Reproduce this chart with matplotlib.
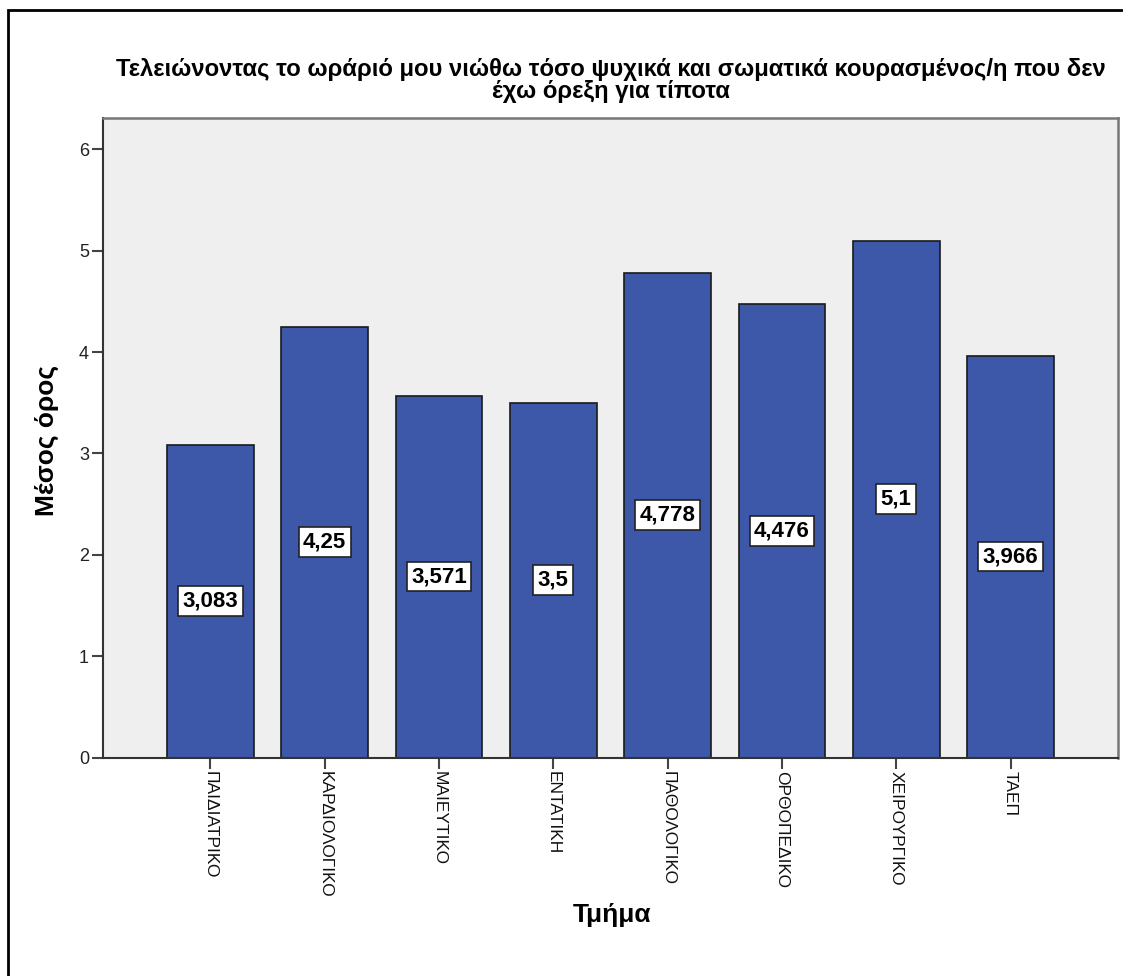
import matplotlib
matplotlib.use("Agg")
import matplotlib.pyplot as plt
from matplotlib.patches import Rectangle

categories = ["ΠΑΙΔΙΑΤΡΙΚΟ", "ΚΑΡΔΙΟΛΟΓΙΚΟ", "ΜΑΙΕΥΤΙΚΟ", "ΕΝΤΑΤΙΚΗ",
              "ΠΑΘΟΛΟΓΙΚΟ", "ΟΡΘΟΠΕΔΙΚΟ", "ΧΕΙΡΟΥΡΓΙΚΟ", "ΤΑΕΠ"]
values = [3.083, 4.25, 3.571, 3.5, 4.778, 4.476, 5.1, 3.966]
value_labels = ["3,083", "4,25", "3,571", "3,5", "4,778", "4,476", "5,1", "3,966"]
yticks = [0, 1, 2, 3, 4, 5, 6]

title_lines = ["Τελειώνοντας το ωράριό μου νιώθω τόσο ψυχικά και σωματικά κουρασμένος/η που δεν",
               "έχω όρεξη για τίποτα"]
xlabel = "Τμήμα"
ylabel = "Μέσος όρος"

plt.rcParams['font.family'] = ['Liberation Sans', 'DejaVu Sans']

W, H = 1123, 976
fig = plt.figure(figsize=(W / 100, H / 100), dpi=100)
fig.patch.set_facecolor("white")

# outer frame
fig.patches.append(Rectangle((8 / W, -0.01), 1.2, 1 - 10 / H + 0.01, transform=fig.transFigure,
                             fill=False, edgecolor="black", linewidth=2))

left, right = 103 / W, 1118 / W
bottom, top = 1 - 757.5 / H, 1 - 118 / H
ax = fig.add_axes([left, bottom, right - left, top - bottom])
ax.set_facecolor("#efefef")

x = list(range(len(categories)))
ax.bar(x, values, width=0.757, color="#3d57a9", edgecolor="#1a1a1a", linewidth=1.2, zorder=2)

for xi, v, lab in zip(x, values, value_labels):
    ax.text(xi, v / 2, lab, ha="center", va="center", fontsize=16, fontweight="bold",
            color="black", zorder=3,
            bbox=dict(boxstyle="square,pad=0.2", facecolor="white", edgecolor="#222222", linewidth=1.2))

ax.set_xlim(-0.94, 7.94)
ax.set_ylim(0, 6.31)
ax.set_yticks(yticks)
ax.set_yticklabels([str(t) for t in yticks], fontsize=13, color="#222222")
ax.set_xticks(x)
ax.set_xticklabels(categories, rotation=-90, fontsize=12.5, color="#111111", va="top", ha="center")
ax.tick_params(axis="both", length=8, width=1.5, color="#444444")
ax.tick_params(axis="x", pad=2)
ax.tick_params(axis="y", pad=2)

for s in ["left", "bottom"]:
    ax.spines[s].set_color("#333333")
    ax.spines[s].set_linewidth(1.5)
for s in ["top", "right"]:
    ax.spines[s].set_color("#777777")
    ax.spines[s].set_linewidth(1.8)

cx = (left + right) / 2
fig.text(cx, 1 - 76 / H, title_lines[0], ha="center", va="baseline", fontsize=17.2, fontweight="bold")
fig.text(cx, 1 - 98 / H, title_lines[1], ha="center", va="baseline", fontsize=17.2, fontweight="bold")
fig.text(47 / W, 1 - 440 / H, ylabel, ha="center", va="center", rotation=90,
         fontsize=19, fontweight="bold")
fig.text(612 / W, 1 - 915 / H, xlabel, ha="center", va="center",
         fontsize=19, fontweight="bold")

fig.savefig("out.png", dpi=100)
